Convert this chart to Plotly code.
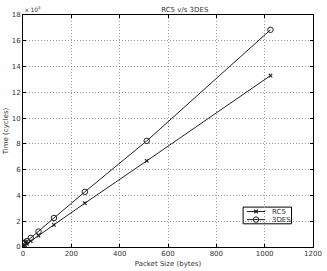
import plotly.graph_objects as go

packet_sizes = [1, 2, 4, 8, 16, 32, 64, 128, 256, 512, 1024]
rc5_cycles = [700, 800, 1000, 1500, 2500, 4600, 8800, 17200, 34000, 66800, 133000]
des3_cycles = [2700, 2800, 3000, 3500, 4500, 7000, 12000, 22500, 42800, 82300, 168500]
series_names = ["RC5", "3DES"]

scale = 1e4
FONT = "DejaVu Sans"
TXT = "#333333"
rc5_marker = dict(symbol="x-thin-open", size=3.5, color="#222222", line=dict(width=1.2, color="#222222"))
des_marker = dict(symbol="circle-open", size=5.5, color="#222222", line=dict(width=1))

fig = go.Figure()
fig.add_trace(go.Scatter(
    x=packet_sizes, y=[v / scale for v in rc5_cycles], name=series_names[0],
    mode="lines+markers", line=dict(color="#222222", width=1), marker=rc5_marker, showlegend=False))
fig.add_trace(go.Scatter(
    x=packet_sizes, y=[v / scale for v in des3_cycles], name=series_names[1],
    mode="lines+markers", line=dict(color="#222222", width=1), marker=des_marker, showlegend=False))

# compact legend drawn on an overlay axis in [0,1] coordinates
lx0, lx1, lxm = 0.772, 0.835, 0.8035
ly = [0.153, 0.118]
for name, yy, mk in zip(series_names, ly, [rc5_marker, des_marker]):
    fig.add_trace(go.Scatter(x=[lx0, lxm, lx1], y=[yy, yy, yy], mode="lines", xaxis="x2", yaxis="y2",
                             line=dict(color="#222222", width=1), showlegend=False, hoverinfo="skip"))
    fig.add_trace(go.Scatter(x=[lxm], y=[yy], mode="markers", xaxis="x2", yaxis="y2",
                             marker=mk, showlegend=False, hoverinfo="skip"))

axis_common = dict(showline=True, mirror="ticks", linecolor="black", linewidth=1,
                   ticks="inside", ticklen=3, tickcolor="black",
                   showgrid=True, gridcolor="#999999", griddash="1px,2px", gridwidth=1,
                   zeroline=False, tickfont=dict(size=7, family=FONT, color=TXT),
                   ticklabeloverflow="allow")

fig.update_xaxes(range=[0, 1200], dtick=200, title=dict(text="Packet Size (bytes)", font=dict(size=7, family=FONT, color=TXT), standoff=3), **axis_common)
fig.update_yaxes(range=[0, 18], dtick=2, title=dict(text="Time (cycles)", font=dict(size=7, family=FONT, color=TXT), standoff=2), **axis_common)

fig.update_layout(
    width=327, height=271, margin=dict(l=23, r=5, t=15, b=19),
    paper_bgcolor="white", plot_bgcolor="white",
    xaxis2=dict(overlaying="x", range=[0, 1], visible=False, fixedrange=True),
    yaxis2=dict(overlaying="y", range=[0, 1], visible=False, fixedrange=True),
    title=dict(text="RC5 v/s 3DES", x=0.565, xanchor="center", y=0.975, yanchor="top",
               font=dict(size=7, family=FONT, color=TXT)),
    showlegend=False,
    shapes=[dict(type="rect", xref="paper", yref="paper", x0=0.759, x1=0.926, y0=0.100, y1=0.172,
                 line=dict(color="black", width=1), fillcolor="white", layer="below")],
    annotations=[
        dict(text="x 10<sup>4</sup>", xref="paper", yref="paper", x=0, y=1.0,
             xanchor="left", yanchor="bottom", showarrow=False,
             font=dict(size=6, family=FONT, color=TXT)),
        dict(text=series_names[0], xref="paper", yref="paper", x=0.85, y=ly[0], xanchor="left",
             yanchor="middle", showarrow=False, font=dict(size=7, family=FONT, color=TXT)),
        dict(text=series_names[1], xref="paper", yref="paper", x=0.85, y=ly[1], xanchor="left",
             yanchor="middle", showarrow=False, font=dict(size=7, family=FONT, color=TXT)),
    ],
)
fig.write_html("out.html")
